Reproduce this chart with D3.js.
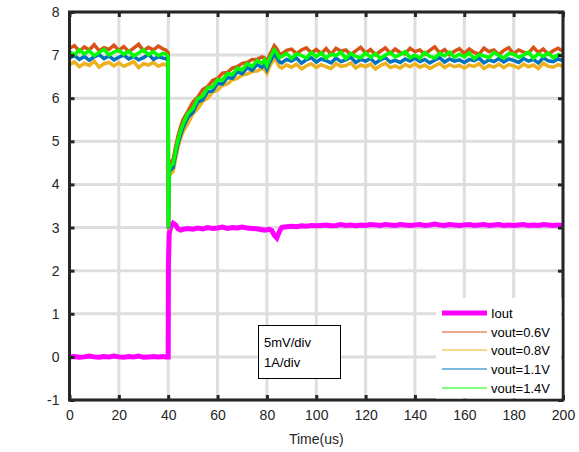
<!DOCTYPE html>
<html>
<head>
    <meta charset="utf-8">
    <title>load step</title>
    <script src="https://d3js.org/d3.v7.min.js"></script>
    <style>
        body { margin: 0; background: #fff; }
        text { font-family: "Liberation Sans", Arial, sans-serif; fill: #262626; }
    </style>
</head>
<body>
<script>
    // time axis (us)
    var time = [0,2,4,6,8,10,12,14,16,18,
        20,22,24,26,28,30,32,34,36,38,
        39,40,40.1,40.4,41,42,43,44,45,46,
        48,50,52,54,56,58,60,62,64,66,
        68,70,72,74,76,78,79,80,81,82,
        83,84,85,86,88,90,92,94,96,98,
        100,102,104,106,108,110,112,114,116,118,
        120,122,124,126,128,130,132,134,136,138,
        140,142,144,146,148,150,152,154,156,158,
        160,162,164,166,168,170,172,174,176,178,
        180,182,184,186,188,190,192,194,196,198,
        200];

    var iout = [0.00,0.01,-0.01,0.00,0.02,0.00,-0.01,0.01,0.00,0.02,
        0.00,-0.01,0.01,0.00,0.02,-0.01,0.00,0.01,0.00,0.01,
        0.00,0.00,2.20,2.85,3.02,3.10,3.06,2.97,2.94,2.96,
        2.98,2.96,2.99,2.97,3.00,2.98,2.99,3.01,2.98,3.00,
        2.99,3.01,2.99,2.98,2.97,2.95,2.94,2.95,2.96,2.93,
        2.82,2.76,2.90,3.00,3.02,3.03,3.02,3.04,3.03,3.05,
        3.04,3.05,3.06,3.04,3.05,3.07,3.05,3.06,3.04,3.06,
        3.05,3.07,3.06,3.05,3.07,3.06,3.05,3.07,3.06,3.05,
        3.06,3.07,3.05,3.06,3.08,3.06,3.05,3.07,3.06,3.05,
        3.06,3.07,3.05,3.06,3.07,3.05,3.06,3.07,3.05,3.06,
        3.05,3.06,3.07,3.05,3.06,3.05,3.07,3.06,3.05,3.06,
        3.04];

    var vout06 = [7.16,7.22,7.09,7.19,7.12,7.24,7.10,7.17,7.13,7.23,
        7.11,7.20,7.08,7.16,7.25,7.10,7.18,7.12,7.21,7.14,
        7.12,7.05,3.05,4.45,4.52,4.58,4.88,5.13,5.33,5.50,
        5.70,5.91,6.03,6.20,6.27,6.41,6.46,6.58,6.60,6.70,
        6.73,6.81,6.83,6.90,6.90,6.96,6.94,6.85,6.99,7.10,
        7.22,7.15,7.04,7.02,7.11,7.14,7.03,7.12,7.17,7.05,
        7.13,7.04,7.15,7.02,7.16,7.09,7.12,7.01,7.10,7.18,
        7.05,7.13,7.01,7.09,7.17,7.04,7.14,7.06,7.03,7.16,
        7.08,7.12,7.02,7.11,7.19,7.05,7.13,7.01,7.09,7.15,
        7.04,7.14,7.06,7.02,7.16,7.08,7.12,7.01,7.11,7.17,
        7.03,7.12,7.07,7.04,7.18,7.06,7.14,7.02,7.10,7.16,
        7.09];

    var vout08 = [6.78,6.84,6.73,6.81,6.76,6.86,6.72,6.80,6.83,6.75,
        6.82,6.74,6.79,6.85,6.71,6.80,6.77,6.83,6.74,6.79,
        6.78,6.72,2.95,4.18,4.25,4.30,4.60,4.86,5.06,5.22,
        5.41,5.64,5.76,5.93,6.00,6.14,6.19,6.30,6.33,6.43,
        6.46,6.54,6.56,6.62,6.63,6.69,6.67,6.58,6.72,6.83,
        6.92,6.85,6.73,6.70,6.77,6.72,6.79,6.68,6.75,6.80,
        6.71,6.78,6.73,6.69,6.80,6.74,6.76,6.82,6.70,6.77,
        6.73,6.79,6.68,6.76,6.81,6.71,6.75,6.70,6.78,6.73,
        6.80,6.72,6.77,6.69,6.75,6.81,6.71,6.78,6.73,6.76,
        6.70,6.77,6.74,6.80,6.69,6.76,6.72,6.79,6.71,6.78,
        6.75,6.70,6.79,6.73,6.77,6.69,6.81,6.74,6.72,6.78,
        6.74];

    var vout11 = [6.93,6.99,6.90,6.97,6.88,6.96,7.01,6.92,6.98,6.89,
        6.95,7.00,6.91,6.97,6.89,6.94,7.02,6.90,6.96,6.93,
        6.92,6.87,2.98,4.27,4.34,4.39,4.69,4.95,5.15,5.31,
        5.56,5.67,5.91,5.96,6.15,6.17,6.34,6.33,6.48,6.46,
        6.61,6.57,6.71,6.65,6.78,6.72,6.80,6.67,6.82,6.92,
        7.02,6.95,6.85,6.82,6.90,6.86,6.93,6.81,6.89,6.94,
        6.84,6.91,6.87,6.82,6.93,6.85,6.89,6.95,6.83,6.90,
        6.86,6.92,6.81,6.89,6.94,6.84,6.88,6.83,6.91,6.86,
        6.93,6.85,6.90,6.82,6.88,6.94,6.84,6.91,6.86,6.89,
        6.83,6.90,6.87,6.93,6.82,6.89,6.85,6.92,6.84,6.91,
        6.88,6.83,6.92,6.86,6.90,6.82,6.94,6.87,6.85,6.91,
        6.87];

    var vout14 = [7.08,7.01,7.12,7.03,7.10,6.99,7.06,7.13,7.00,7.07,
        7.11,7.02,7.09,6.98,7.05,7.12,7.01,7.08,6.99,7.04,
        7.03,6.96,3.00,4.36,4.43,4.48,4.78,5.04,5.24,5.40,
        5.65,5.76,6.00,6.05,6.24,6.26,6.43,6.42,6.57,6.55,
        6.70,6.66,6.80,6.74,6.87,6.81,6.89,6.76,6.91,7.02,
        7.12,7.05,6.94,6.97,7.04,6.92,7.03,6.99,6.93,7.06,
        6.96,7.05,6.93,7.02,6.99,7.07,6.92,7.04,6.97,6.94,
        7.05,6.95,7.03,6.92,7.00,7.06,6.96,7.01,7.08,6.94,
        7.00,6.93,7.06,6.97,6.94,7.04,6.98,7.07,6.95,7.02,
        6.96,7.05,6.92,7.01,6.98,6.94,7.06,6.99,6.93,7.04,
        7.02,6.95,7.00,7.07,6.93,7.03,6.97,7.05,6.94,7.01,
        6.98];

    var names = ["Iout", "vout=0.6V", "vout=0.8V", "vout=1.1V", "vout=1.4V"];
    var colors = ["#ff00ff", "#d95319", "#edb120", "#0072bd", "#00ff00"];
    var xTicks = [0,20,40,60,80,100,120,140,160,180,200];
    var yTicks = [-1,0,1,2,3,4,5,6,7,8];
    var noteLines = ["5mV/div", "1A/div"];

    var w = 579, h = 452;
    // note: "top" is reserved on window, so use m* names
    var mL = 69.5, mR = 563, mT = 12, mB = 400;

    var svg = d3.select("body").append("svg")
        .attr("width", w)
        .attr("height", h);

    var x = d3.scaleLinear().domain([0, 200]).range([mL, mR]);
    var y = d3.scaleLinear().domain([-1, 8]).range([mB, mT]);

    // grid
    svg.append("g").selectAll("line").data(xTicks).enter().append("line")
        .attr("x1", function(d){ return x(d); }).attr("x2", function(d){ return x(d); })
        .attr("y1", mT).attr("y2", mB)
        .attr("stroke", "#dedede").attr("stroke-width", 3);
    svg.append("g").selectAll("line").data(yTicks).enter().append("line")
        .attr("x1", mL).attr("x2", mR)
        .attr("y1", function(d){ return y(d); }).attr("y2", function(d){ return y(d); })
        .attr("stroke", "#dedede").attr("stroke-width", 3);

    // curves (Iout first, green last so it sits on top)
    var series = [iout, vout06, vout08, vout11, vout14];
    var line = d3.line()
        .x(function(d, i){ return x(time[i]); })
        .y(function(d){ return y(d); });

    var plot = svg.append("g");
    series.forEach(function(s, k){
        plot.append("path")
            .datum(s)
            .attr("fill", "none")
            .attr("stroke", colors[k])
            .attr("stroke-width", k == 0 ? 5 : 3.5)
            .attr("stroke-linejoin", "miter")
            .attr("d", line);
    });

    // box + ticks
    var axisColor = "#262626";
    svg.append("rect")
        .attr("x", mL).attr("y", mT)
        .attr("width", mR - mL).attr("height", mB - mT)
        .attr("fill", "none").attr("stroke", axisColor).attr("stroke-width", 3);

    var fmt = function(d){ return String(d); };
    svg.append("g")
        .attr("transform", "translate(0," + mB + ")")
        .call(d3.axisBottom(x).tickValues(xTicks).tickFormat(fmt).tickSizeInner(-5).tickSizeOuter(0).tickPadding(10))
        .call(function(g){ g.select(".domain").remove(); });
    svg.append("g")
        .attr("transform", "translate(0," + mT + ")")
        .call(d3.axisTop(x).tickValues(xTicks).tickSizeInner(-5).tickSizeOuter(0).tickFormat(""))
        .call(function(g){ g.select(".domain").remove(); });
    svg.append("g")
        .attr("transform", "translate(" + mL + ",0)")
        .call(d3.axisLeft(y).tickValues(yTicks).tickFormat(fmt).tickSizeInner(-5).tickSizeOuter(0).tickPadding(10))
        .call(function(g){ g.select(".domain").remove(); });
    svg.append("g")
        .attr("transform", "translate(" + mR + ",0)")
        .call(d3.axisRight(y).tickValues(yTicks).tickSizeInner(-5).tickSizeOuter(0).tickFormat(""))
        .call(function(g){ g.select(".domain").remove(); });

    svg.selectAll(".tick line").attr("stroke", axisColor).attr("stroke-width", 3);
    svg.selectAll(".tick text")
        .attr("font-size", 14)
        .attr("font-family", "Liberation Sans, Arial, sans-serif")
        .attr("fill", axisColor);

    svg.append("text")
        .attr("x", (mL + mR) / 2)
        .attr("y", 444)
        .attr("text-anchor", "middle")
        .attr("font-size", 14)
        .text("Time(us)");

    // text box
    svg.append("rect")
        .attr("x", 258.5).attr("y", 325.5)
        .attr("width", 82).attr("height", 53)
        .attr("fill", "#fff").attr("stroke", "#000").attr("stroke-width", 1);
    svg.selectAll(".note").data(noteLines).enter().append("text")
        .attr("class", "note")
        .attr("x", 264)
        .attr("y", function(d, i){ return 347 + i * 20; })
        .attr("font-size", 13)
        .style("fill", "#000")
        .text(function(d){ return d; });

    // legend
    svg.append("rect")
        .attr("x", 436).attr("y", 298)
        .attr("width", mR - 1.5 - 436).attr("height", mB - 1.5 - 298)
        .attr("fill", "#fff");
    var legY = [313, 332, 350, 369, 388];
    var leg = svg.selectAll(".leg").data(names).enter().append("g")
        .attr("class", "leg")
        .attr("transform", function(d, i){ return "translate(442," + legY[i] + ")"; });
    leg.append("line")
        .attr("x1", 0).attr("x2", 45)
        .attr("stroke", function(d, i){ return colors[i]; })
        .attr("stroke-width", function(d, i){ return i == 0 ? 5 : 1.2; });
    leg.append("text")
        .attr("x", 49)
        .attr("dy", "0.35em")
        .attr("font-size", 13)
        .style("fill", "#000")
        .text(function(d){ return d; });
</script>
</body>
</html>
